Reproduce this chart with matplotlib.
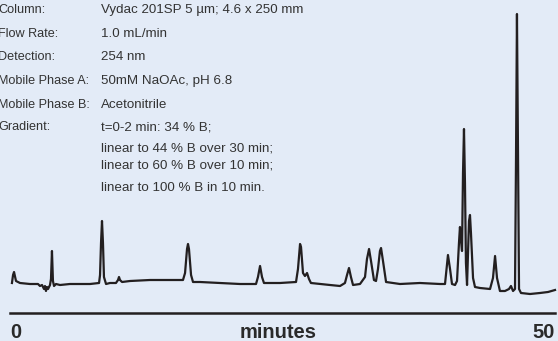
import matplotlib
matplotlib.use("Agg")
import matplotlib.pyplot as plt

# chromatogram trace: retention time (min) and detector signal (mAU, baseline ~0)
time_min = [
    0.18, 0.28, 0.37, 0.55, 0.92, 1.83, 2.57, 2.75, 2.94, 3.12, 3.21, 3.30,
    3.39, 3.49, 3.67, 3.76, 3.85, 3.94, 4.04, 4.22, 4.59, 5.50, 6.42, 7.34,
    8.17, 8.26, 8.35, 8.44, 8.53, 8.62, 8.81, 9.17, 9.72, 9.91, 10.00, 10.09,
    10.28, 11.01, 12.84, 14.68, 15.87, 16.06, 16.24, 16.33, 16.42, 16.61, 16.79,
    17.43, 19.27, 21.10, 22.57, 22.75, 22.94, 23.12, 23.30, 24.77, 26.24, 26.42,
    26.61, 26.70, 26.88, 27.06, 27.25, 27.43, 27.61, 28.44, 29.36, 30.28, 30.73,
    30.92, 31.10, 31.28, 31.47, 32.11, 32.57, 32.75, 32.94, 33.12, 33.39, 33.58,
    33.76, 33.94, 34.04, 34.22, 34.50, 35.78, 37.61, 39.45, 39.91, 40.09, 40.18,
    40.37, 40.55, 40.83, 41.01, 41.19, 41.28, 41.38, 41.47, 41.56, 41.65, 41.74,
    41.83, 41.93, 42.02, 42.11, 42.20, 42.29, 42.48, 42.66, 43.12, 44.04, 44.31,
    44.50, 44.68, 44.95, 45.41, 45.78, 45.96, 46.15, 46.33, 46.42, 46.51, 46.61,
    46.70, 46.88, 47.71, 48.62, 49.36, 50.00,
]
signal = [
    0, 8, 11, 2, 0, -1, -1, -3, -2, -6, -3, -8,
    -4, -6, -2, 4, 32, 2, -3, -1, -2, -1, -1, -1,
    0, 8, 40, 62, 40, 6, -1, 0, 0, 3, 6, 3,
    1, 2, 3, 3, 3, 10, 34, 39, 34, 8, 1,
    1, 0, -1, -1, 6, 17, 6, 0, 0, 1, 14,
    39, 36, 10, 7, 10, 4, 0, -1, -2, -3, 0,
    8, 15, 6, -2, -1, 6, 24, 34, 22, 3, 2,
    14, 32, 35, 22, 1, -1, 0, -1, -1, 18, 28,
    14, -1, -2, 2, 40, 56, 42, 32, 110, 154, 100,
    20, -2, 30, 62, 68, 50, 5, -4, -5, -6, 5,
    27, 5, -8, -8, -6, -3, -8, -6, 120, 269, 120,
    -6, -10, -11, -10, -9, -7,
]

conditions = [
    ("Column:", "Vydac 201SP 5 µm; 4.6 x 250 mm"),
    ("Flow Rate:", "1.0 mL/min"),
    ("Detection:", "254 nm"),
    ("Mobile Phase A:", "50mM NaOAc, pH 6.8"),
    ("Mobile Phase B:", "Acetonitrile"),
    ("Gradient:", "t=0-2 min: 34 % B;"),
    ("", "linear to 44 % B over 30 min;"),
    ("", "linear to 60 % B over 10 min;"),
    ("", "linear to 100 % B in 10 min."),
]
row_y = [10, 34, 57, 81, 105, 127, 148, 166, 188]  # text rows, pixels from top

bg = "#e3ebf7"
ink = "#231f20"
W, H = 558, 341

fig = plt.figure(figsize=(W / 100, H / 100), dpi=100, facecolor=bg)
ax = fig.add_axes([0, 0, 1, 1], facecolor=bg)

# x: minutes, 0 min at px 10 and 50 min at px 555
px_per_min = 545 / 50
ax.set_xlim(-10 / px_per_min, (W - 10) / px_per_min)
ax.set_ylim(283 - H, 283)

ax.plot(time_min, signal, color=ink, lw=1.6, solid_joinstyle="round")

for side in ("top", "left", "right"):
    ax.spines[side].set_visible(False)
ax.spines["bottom"].set_position(("data", -30))
ax.spines["bottom"].set_bounds(0, 50)
ax.spines["bottom"].set_linewidth(1.8)
ax.spines["bottom"].set_color(ink)
ax.set_xticks([])
ax.set_yticks([])

lab = dict(color="#2a2a2a", fontsize=14.5, fontweight="bold",
           family=["Liberation Sans", "DejaVu Sans"], va="baseline")
ax.text(0, -55, "0", ha="left", **lab)
ax.text(25 - 0.4, -55, "minutes", ha="center", **lab)
ax.text(50, -55, "50", ha="right", **lab)

txt = dict(color="#333333",
           family=["Liberation Sans", "DejaVu Sans"],
           va="center", transform=ax.transAxes)
for (name, value), py in zip(conditions, row_y):
    y = 1 - py / H
    if name:
        ax.text(-2 / W, y, name, ha="left", fontsize=9.1, **txt)
    ax.text(101 / W, y, value, ha="left", fontsize=9.6, **txt)

fig.savefig("out.png", dpi=100, facecolor=bg)
